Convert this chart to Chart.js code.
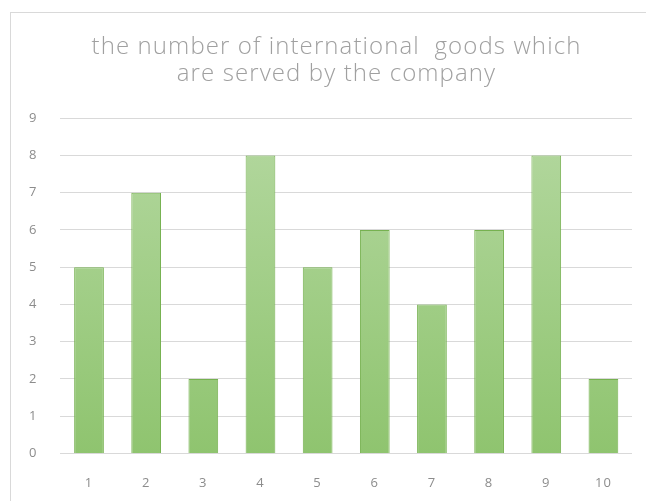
<!DOCTYPE html>
<html>
<head>
<meta charset="utf-8">
<script src="https://cdn.jsdelivr.net/npm/chart.js@4"></script>
<style>
  html, body { margin: 0; padding: 0; background: #fff; }
  #frame { position: absolute; left: 10px; top: 12px; width: 640px; height: 495px; border: 1px solid #d9d9d9; }
  #wrap { position: absolute; left: 0; top: 0; width: 646px; height: 501px; }
</style>
</head>
<body>
<div id="frame"></div>
<div id="wrap"><canvas id="goodsChart"></canvas></div>
<script>
const categories = ['1', '2', '3', '4', '5', '6', '7', '8', '9', '10'];
const goodsCount = [5, 7, 2, 8, 5, 6, 4, 6, 8, 2];
const titleLines = ['the number of international  goods which', 'are served by the company'];
const yMax = 9;

document.addEventListener('DOMContentLoaded', () => {
    const ctx = document.getElementById('goodsChart');

    const barFill = (context) => {
        const area = context.chart.chartArea;
        if (!area) return '#a9d18e';
        const g = context.chart.ctx.createLinearGradient(0, area.top, 0, area.bottom);
        g.addColorStop(0, '#b4d8a0');
        g.addColorStop(1, '#8fc46f');
        return g;
    };

    // wide, airy lettering like the original title font
    const spacing = {
        id: 'spacing',
        beforeDraw: chart => { chart.ctx.letterSpacing = '1.1px'; },
        afterDraw: chart => { chart.ctx.letterSpacing = '0px'; }
    };

    // the title sits a little right of the canvas centre in the original
    const titleShift = {
        id: 'titleShift',
        afterLayout: chart => {
            const t = chart.titleBlock;
            if (t) { t.left += 17; t.right += 17; }
        }
    };

    new Chart(ctx, {
        type: 'bar',
        data: {
            labels: categories,
            datasets: [{
                data: goodsCount,
                backgroundColor: barFill,
                borderColor: '#76b150',
                borderWidth: 1,
                barPercentage: 0.52,
                categoryPercentage: 1
            }]
        },
        plugins: [spacing, titleShift],
        options: {
            responsive: true,
            maintainAspectRatio: false,
            animation: false,
            layout: { padding: { left: 7, right: 14, top: 33, bottom: -4 } },
            plugins: {
                legend: { display: false },
                tooltip: { enabled: false },
                title: {
                    display: true,
                    text: titleLines,
                    color: '#a0a0a0',
                    font: { family: '"Open Sans", sans-serif', size: 24, weight: 300, lineHeight: 1.15 },
                    padding: { top: 0, bottom: 30 }
                }
            },
            scales: {
                x: {
                    grid: { display: false },
                    border: { display: false },
                    ticks: { color: '#8c8c8c', font: { family: '"Open Sans", sans-serif', size: 13 }, padding: 14 }
                },
                y: {
                    min: 0,
                    max: yMax,
                    grid: { color: '#d9d9d9', drawTicks: false },
                    border: { display: false },
                    ticks: { stepSize: 1, color: '#8c8c8c', font: { family: '"Open Sans", sans-serif', size: 13 }, padding: 23 }
                }
            }
        }
    });
});
</script>
</body>
</html>
